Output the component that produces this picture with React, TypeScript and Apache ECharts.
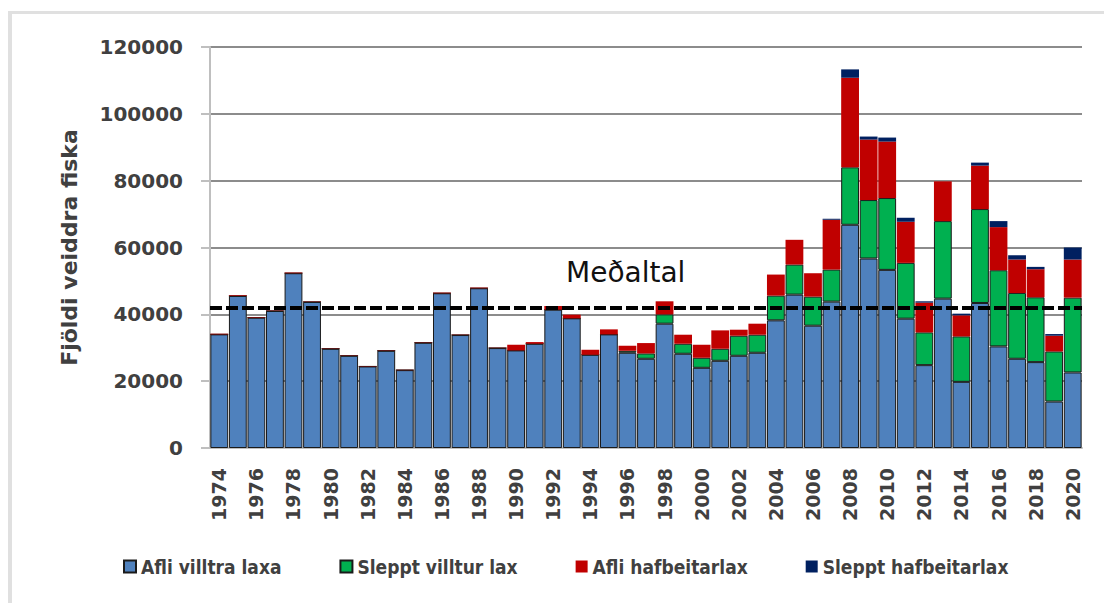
import React, { useEffect, useRef } from "react";
import * as echarts from "echarts";

const years: string[] = [
  "1974","1975","1976","1977","1978","1979","1980","1981","1982","1983",
  "1984","1985","1986","1987","1988","1989","1990","1991","1992","1993",
  "1994","1995","1996","1997","1998","1999","2000","2001","2002","2003",
  "2004","2005","2006","2007","2008","2009","2010","2011","2012","2013",
  "2014","2015","2016","2017","2018","2019","2020",
];

// Afli villtra laxa
const afliVilltra: number[] = [
  34000, 45500, 39000, 41000, 52300, 43700, 29700, 27600, 24400, 29100,
  23300, 31500, 46300, 33800, 47800, 29900, 29200, 31200, 41400, 38800,
  27900, 34000, 28500, 26700, 37200, 28200, 24000, 26100, 27600, 28500,
  38200, 45900, 36600, 43800, 66800, 56700, 53300, 38700, 24800, 44700,
  19800, 43400, 30400, 26700, 25700, 13900, 22600,
];

// Sleppt villtur lax
const slepptVilltur: number[] = [
  0, 0, 0, 0, 0, 0, 0, 0, 0, 0,
  0, 0, 0, 0, 0, 0, 0, 0, 0, 0,
  0, 0, 600, 1600, 2800, 3000, 3000, 3600, 6000, 5400,
  7400, 9000, 8700, 9600, 17200, 17500, 21500, 16700, 9800, 23200,
  13600, 28100, 22800, 19700, 19400, 15000, 22400,
];

// Afli hafbeitarlax
const afliHafbeitar: number[] = [
  200, 200, 100, 100, 200, 100, 100, 100, 100, 100,
  100, 100, 200, 100, 200, 100, 1700, 500, 1100, 1100,
  1500, 1500, 1500, 3100, 3900, 2700, 3900, 5500, 1800, 3300,
  6300, 7400, 7000, 14900, 26800, 18100, 16900, 12300, 8900, 11900,
  6300, 13000, 12900, 10000, 8400, 4700, 11400,
];

// Sleppt hafbeitarlax
const slepptHafbeitar: number[] = [
  0, 0, 0, 0, 0, 0, 0, 0, 0, 0,
  0, 0, 0, 0, 0, 0, 0, 0, 0, 0,
  0, 0, 0, 0, 0, 0, 0, 0, 0, 0,
  0, 0, 0, 300, 2500, 900, 1200, 1200, 400, 0,
  500, 900, 1800, 1300, 700, 500, 3600,
];

const seriesNames: string[] = [
  "Afli villtra laxa",
  "Sleppt villtur lax",
  "Afli hafbeitarlax",
  "Sleppt hafbeitarlax",
];

const meanValue = 42000;
const meanLabel = "Meðaltal";
const yAxisTitle = "Fjöldi veiddra fiska";

const FONT = "'DejaVu Sans', sans-serif";
const LEGEND_FONT = "'DejaVu Sans Condensed', 'DejaVu Sans', sans-serif";

export default function App() {
  const ref = useRef<HTMLDivElement>(null);

  useEffect(() => {
    document.body.style.margin = "0";
    if (!ref.current) return;
    const chart = echarts.init(ref.current, undefined, { renderer: "svg" });

    const barBase = {
      type: "bar" as const,
      stack: "total",
      barCategoryGap: "4%",
    };

    chart.setOption({
      animation: false,
      backgroundColor: "#ffffff",
      grid: { left: 210, right: 22, top: 47, bottom: 155, containLabel: false },
      legend: {
        left: 118,
        top: 552,
        itemWidth: 12,
        itemHeight: 12,
        itemGap: 58,
        icon: "rect",
        textStyle: { fontFamily: LEGEND_FONT, fontWeight: "bold", fontSize: 19, color: "#404040" },
        data: seriesNames,
      },
      xAxis: {
        type: "category",
        data: years,
        axisLine: { show: true, lineStyle: { color: "#bfbfbf", width: 2 } },
        axisTick: { show: false },
        axisLabel: {
          interval: 1,
          rotate: 90,
          margin: 20,
          fontFamily: FONT,
          fontWeight: "bold",
          fontSize: 19,
          color: "#404040",
        },
      },
      yAxis: {
        type: "value",
        min: 0,
        max: 120000,
        interval: 20000,
        name: yAxisTitle,
        nameLocation: "middle",
        nameRotate: 90,
        nameGap: 130,
        nameTextStyle: { fontFamily: FONT, fontWeight: "bold", fontSize: 22, color: "#404040" },
        axisLine: { show: true, lineStyle: { color: "#bfbfbf", width: 2 } },
        axisTick: { show: true, length: 9, lineStyle: { color: "#bfbfbf", width: 2 } },
        axisLabel: {
          margin: 27,
          fontFamily: FONT,
          fontWeight: "bold",
          fontSize: 20,
          color: "#404040",
          formatter: (v: number) => String(v),
        },
        splitLine: { show: true, lineStyle: { color: "#8c8c8c", width: 2 } },
      },
      graphic: [
        { type: "rect", shape: { x: 8, y: 11, width: 1096, height: 3 }, style: { fill: "#e0e0e0" }, silent: true },
        { type: "rect", shape: { x: 8, y: 11, width: 4, height: 592 }, style: { fill: "#e0e0e0" }, silent: true },
        {
          type: "text",
          left: 566,
          top: 258,
          style: { text: meanLabel, fontFamily: FONT, fontSize: 28, fill: "#111111" },
          z: 10,
        },
      ],
      series: [
        {
          ...barBase,
          name: seriesNames[0],
          data: afliVilltra,
          itemStyle: { color: "#4f81bd", borderColor: "#1a1a1a", borderWidth: 1 },
          markLine: {
            silent: true,
            symbol: ["none", "none"],
            label: { show: false },
            lineStyle: { color: "#000000", width: 4, type: [12, 4] },
            data: [{ yAxis: meanValue }],
            z: 10,
          },
        },
        {
          ...barBase,
          name: seriesNames[1],
          data: slepptVilltur,
          itemStyle: { color: "#00b050", borderColor: "#1a1a1a", borderWidth: 1 },
        },
        {
          ...barBase,
          name: seriesNames[2],
          data: afliHafbeitar,
          itemStyle: { color: "#c00000" },
        },
        {
          ...barBase,
          name: seriesNames[3],
          data: slepptHafbeitar,
          itemStyle: { color: "#002060" },
        },
      ],
    });

    return () => chart.dispose();
  }, []);

  return <div ref={ref} style={{ width: 1104, height: 603 }} />;
}
